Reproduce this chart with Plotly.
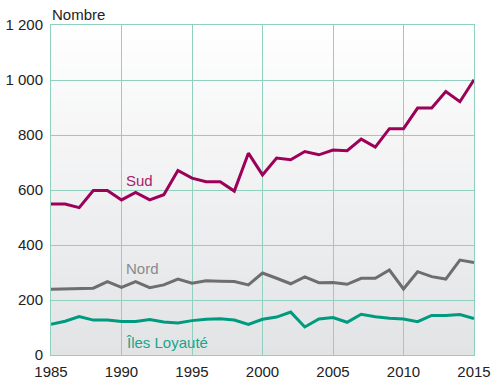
import plotly.graph_objects as go

# Years covered
years = list(range(1985, 2016))

# Number per province and year
sud = [549, 549, 536, 598, 598, 564, 591, 564, 583, 671, 643, 630, 630, 596, 734,
       655, 716, 710, 740, 728, 745, 743, 785, 756, 823, 823, 898, 898, 958, 921, 1001]
nord = [239, 240, 242, 243, 267, 246, 267, 245, 255, 276, 261, 270, 268, 267, 255,
        298, 279, 259, 284, 263, 264, 257, 279, 279, 309, 240, 303, 285, 276, 345, 336]
iles_loyaute = [112, 123, 140, 127, 127, 122, 122, 129, 120, 116, 125, 130, 132, 127, 111,
                130, 138, 156, 102, 131, 136, 119, 148, 139, 134, 131, 121, 144, 144, 147, 133]

series_names = ["Sud", "Nord", "Îles Loyauté"]
series_colors = ["#9c0059", "#6e6e70", "#009a7e"]
label_colors = ["#a8226b", "#8a8a8c", "#1aa58b"]

y_ticks = [0, 200, 400, 600, 800, 1000, 1200]
y_tick_text = ["0", "200", "400", "600", "800", "1 000", "1 200"]
x_ticks = [1985, 1990, 1995, 2000, 2005, 2010, 2015]

FONT = "Liberation Sans Narrow, Liberation Sans, Arial, sans-serif"
GRID = "#8fd0be"
TICK_SIZE = 15
LABEL_SIZE = 15

fig = go.Figure()
for name, vals, col in zip(series_names, [sud, nord, iles_loyaute], series_colors):
    fig.add_trace(go.Scatter(x=years, y=vals, mode="lines", name=name,
                             line=dict(color=col, width=3), showlegend=False))

# Vertical gradient behind the plotting area (white at top, light grey at bottom)
n = 60
top, bottom = (255, 255, 255), (226, 227, 229)
for i in range(n):
    t = (i + 0.5) / n
    c = tuple(round(top[k] + (bottom[k] - top[k]) * t) for k in range(3))
    fig.add_shape(type="rect", xref="x domain", yref="y domain",
                  x0=0, x1=1, y0=1 - (i + 1) / n, y1=1 - i / n + 0.002,
                  fillcolor=f"rgb{c}", line=dict(width=0), layer="below")

# Series labels
label_pos = [(1990.3, 636), (1990.3, 316), (1990.3, 47)]
for name, (lx, ly), col in zip(series_names, label_pos, label_colors):
    fig.add_annotation(x=lx, y=ly, text=name, showarrow=False, xanchor="left",
                       yanchor="middle", xshift=-2,
                       font=dict(family=FONT, size=LABEL_SIZE, color=col))

fig.add_annotation(xref="paper", yref="paper", x=0, y=1, yshift=0, xshift=-1,
                   text="Nombre", showarrow=False, xanchor="left", yanchor="bottom",
                   font=dict(family=FONT, size=LABEL_SIZE, color="#222222"))

fig.update_layout(
    width=491, height=383,
    margin=dict(l=51, r=17, t=25, b=28, autoexpand=False),
    paper_bgcolor="white", plot_bgcolor="white",
    font=dict(family=FONT, size=TICK_SIZE, color="#222222"),
    xaxis=dict(range=[1985, 2015], tickvals=x_ticks, showgrid=True, gridcolor=GRID,
               gridwidth=1, showline=True, mirror=True, linecolor=GRID, linewidth=1,
               zeroline=False, ticks="", ticklen=0, fixedrange=True,
               ticklabeloverflow="allow", ticklabelstandoff=3),
    yaxis=dict(range=[0, 1200], tickvals=y_ticks, ticktext=y_tick_text, showgrid=True,
               gridcolor=GRID, gridwidth=1, showline=True, mirror=True, linecolor=GRID,
               linewidth=1, zeroline=False, ticks="", ticklen=0, fixedrange=True,
               ticklabelstandoff=4),
)

fig.write_html("out.html", config={"displayModeBar": False})
